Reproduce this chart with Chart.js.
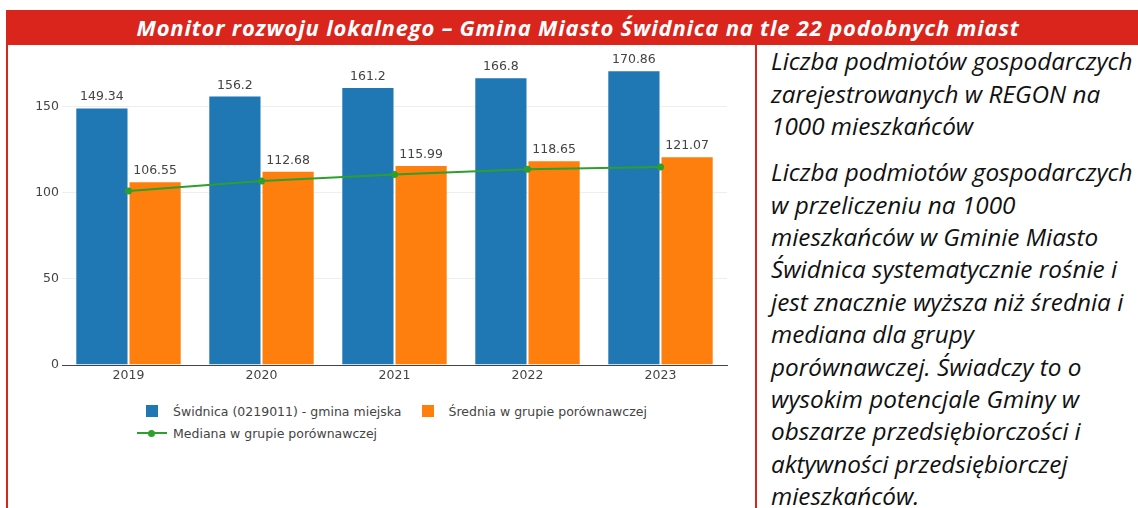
<!DOCTYPE html>
<html lang="pl">
<head>
<meta charset="utf-8">
<script src="https://cdn.jsdelivr.net/npm/chart.js@4.4.1/dist/chart.umd.min.js"></script>
<style>
    html, body { margin: 0; padding: 0; background: #fff; }
    body { position: relative; width: 1138px; height: 508px; overflow: hidden; }
    #header {
        position: absolute; left: 6px; top: 10px; width: 1120px; height: 35px; padding-left: 12px;
        background: #da251d; color: #fff;
        font: italic 700 22px "Open Sans", sans-serif; letter-spacing: 0.8px;
        line-height: 35px; text-align: center; white-space: nowrap;
    }
    .rule { position: absolute; background: #da251d; }
    #frameLeft { left: 6px; top: 44px; width: 2px; height: 464px; }
    #divider { left: 755px; top: 44px; width: 2px; height: 464px; }
    #chartBox { position: absolute; left: 0; top: 44px; width: 755px; height: 350px; }
    #legend { position: absolute; left: 137px; top: 400px; font: 12.5px "DejaVu Sans", sans-serif; color: #444; }
    .lrow { display: flex; align-items: center; height: 22px; white-space: nowrap; }
    .litem { display: flex; align-items: center; margin-right: 11px; }
    .lsw { position: relative; width: 30px; height: 14px; }
    .lsw .sq { position: absolute; left: 9px; top: 1px; width: 12px; height: 12px; }
    .lsw .ln { position: absolute; left: 0; top: 6px; width: 30px; height: 2px; }
    .lsw .dot { position: absolute; left: 11px; top: 3.5px; width: 7px; height: 7px; border-radius: 50%; }
    .ltxt { margin-left: 6px; }
    #note {
        position: absolute; left: 771px; top: 45.3px; width: 370px;
        font: italic 400 24.3px "Open Sans", sans-serif; line-height: 32.4px; color: #111;
        white-space: nowrap;
    }
    #note p { margin: 0 0 13.6px 0; }
</style>
</head>
<body>
<div id="header">Monitor rozwoju lokalnego – Gmina Miasto Świdnica na tle 22 podobnych miast</div>
<div id="frameLeft" class="rule"></div>
<div id="divider" class="rule"></div>
<div id="chartBox"><canvas id="chart"></canvas></div>
<div id="legend"></div>
<div id="note">
    <p>Liczba podmiotów gospodarczych<br>zarejestrowanych w REGON na<br>1000 mieszkańców</p>
    <p>Liczba podmiotów gospodarczych<br>w przeliczeniu na 1000<br>mieszkańców w Gminie Miasto<br>Świdnica systematycznie rośnie i<br>jest znacznie wyższa niż średnia i<br>mediana dla grupy<br>porównawczej. Świadczy to o<br>wysokim potencjale Gminy w<br>obszarze przedsiębiorczości i<br>aktywności przedsiębiorczej<br>mieszkańców.</p>
</div>
<script>
// Values.
const YEARS = ['2019', '2020', '2021', '2022', '2023'];
const SWIDNICA = [149.34, 156.2, 161.2, 166.8, 170.86];
const SREDNIA = [106.55, 112.68, 115.99, 118.65, 121.07];
const MEDIANA = [100.8, 106.6, 110.4, 113.5, 114.8];
const Y_TICKS = [0, 50, 100, 150];
const SERIES_NAMES = ['Świdnica (0219011) - gmina miejska', 'Średnia w grupie porównawczej', 'Mediana w grupie porównawczej'];

const BLUE = '#1f77b4';
const ORANGE = '#ff7f0e';
const GREEN = '#2ca02c';
const TEXT = '#444';
const FONT = { family: 'DejaVu Sans', size: 12.5 };

Chart.defaults.font.family = FONT.family;
Chart.defaults.font.size = FONT.size;
Chart.defaults.color = TEXT;

// Value labels above the bars (plotly "outside" text).
const barLabels = {
    id: 'barLabels',
    afterDatasetsDraw(chart) {
        const ctx = chart.ctx;
        ctx.save();
        ctx.font = `${FONT.size}px "${FONT.family}"`;
        ctx.fillStyle = TEXT;
        ctx.textAlign = 'center';
        ctx.textBaseline = 'bottom';
        chart.data.datasets.forEach((ds, i) => {
            if (ds.type !== 'bar') return;
            chart.getDatasetMeta(i).data.forEach((el, j) => {
                ctx.fillText(String(ds.data[j]), el.x, el.y - 4);
            });
        });
        ctx.restore();
    }
};

const chart = new Chart(document.getElementById('chart').getContext('2d'), {
    data: {
        labels: YEARS,
        datasets: [
            { type: 'bar', label: SERIES_NAMES[0], data: SWIDNICA, backgroundColor: BLUE, borderColor: 'rgba(255,255,255,0.35)', borderWidth: 1, categoryPercentage: 0.8, barPercentage: 1.0, order: 1 },
            { type: 'bar', label: SERIES_NAMES[1], data: SREDNIA, backgroundColor: ORANGE, borderColor: 'rgba(255,255,255,0.35)', borderWidth: 1, categoryPercentage: 0.8, barPercentage: 1.0, order: 1 },
            { type: 'line', label: SERIES_NAMES[2], data: MEDIANA, borderColor: GREEN, backgroundColor: GREEN, borderWidth: 2, pointRadius: 3.5, pointBorderWidth: 0, tension: 0, order: 0 },
        ]
    },
    options: {
        responsive: true, maintainAspectRatio: false, animation: false,
        layout: { padding: { left: 0, right: 28, top: 10, bottom: 0 } },
        plugins: { legend: { display: false }, tooltip: { enabled: false } },
        scales: {
            x: {
                grid: { display: false, drawTicks: false },
                border: { display: true, color: TEXT, width: 1 },
                ticks: { padding: 3, color: TEXT },
                afterFit: s => { s.height = 29; }
            },
            y: {
                min: 0, max: 180,
                grid: { color: c => c.tick && c.tick.value === 0 ? 'rgba(0,0,0,0)' : '#eeeeee', lineWidth: 1, drawTicks: false },
                border: { display: false },
                ticks: { padding: 3, color: TEXT },
                afterBuildTicks: s => { s.ticks = Y_TICKS.map(v => ({ value: v })); },
                afterFit: s => { s.width = 62; }
            }
        }
    },
    plugins: [barLabels]
});

// Legend laid out like the plotly one: two items, then the median line.
const legend = document.getElementById('legend');
const rows = [[0, 1], [2]];
rows.forEach(r => {
    const row = document.createElement('div');
    row.className = 'lrow';
    r.forEach(i => {
        const ds = chart.data.datasets[i];
        const sw = ds.type === 'bar'
            ? `<span class="sq" style="background:${ds.backgroundColor}"></span>`
            : `<span class="ln" style="background:${ds.borderColor}"></span><span class="dot" style="background:${ds.borderColor}"></span>`;
        const item = document.createElement('div');
        item.className = 'litem';
        item.innerHTML = `<span class="lsw">${sw}</span><span class="ltxt">${ds.label}</span>`;
        row.appendChild(item);
    });
    legend.appendChild(row);
});
</script>
</body>
</html>
